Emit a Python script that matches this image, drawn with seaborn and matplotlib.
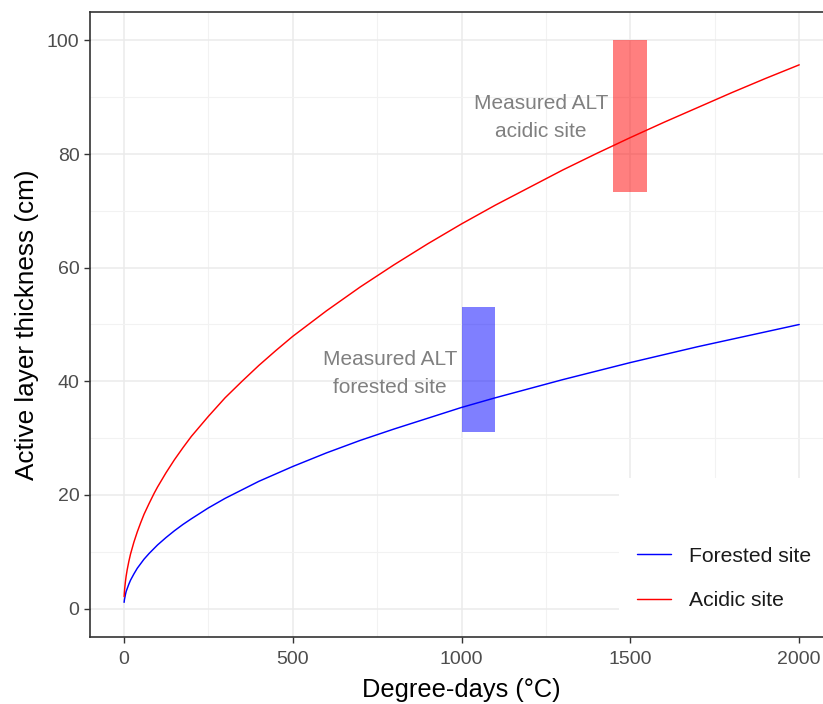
import numpy as np
import pandas as pd
import seaborn as sns
import matplotlib
matplotlib.use("Agg")
import matplotlib.pyplot as plt
from matplotlib.patches import Rectangle
from matplotlib.ticker import MultipleLocator

# Thaw depth versus accumulated degree-days for the two sites
degree_days = [1, 2, 3, 5, 7, 10, 15, 20, 30, 40, 50, 60, 75, 90, 100, 125,
               150, 175, 200, 250, 300, 350, 400, 450, 500, 600, 700, 800,
               900, 1000, 1100, 1200, 1300, 1400, 1500, 1600, 1700, 1800,
               1900, 2000]
forested_alt = [1.1, 1.6, 1.9, 2.5, 3.0, 3.5, 4.3, 5.0, 6.1, 7.1, 7.9, 8.7,
                9.7, 10.6, 11.2, 12.5, 13.7, 14.8, 15.8, 17.7, 19.4, 20.9,
                22.4, 23.7, 25.0, 27.4, 29.6, 31.6, 33.5, 35.4, 37.1, 38.7,
                40.3, 41.8, 43.3, 44.7, 46.1, 47.4, 48.7, 50.0]
acidic_alt = [2.1, 3.0, 3.7, 4.8, 5.7, 6.8, 8.3, 9.6, 11.7, 13.5, 15.1, 16.6,
              18.5, 20.3, 21.4, 23.9, 26.2, 28.3, 30.3, 33.8, 37.1, 40.0,
              42.8, 45.4, 47.9, 52.4, 56.6, 60.5, 64.2, 67.7, 71.0, 74.1,
              77.2, 80.1, 82.9, 85.6, 88.2, 90.8, 93.3, 95.7]
site_names = ["Forested site", "Acidic site"]
site_colors = ["blue", "red"]

# Measured active-layer ranges (degree-day window and depth range)
measured_dd = [(1000, 1100), (1450, 1550)]
measured_alt = [(31.0, 53.0), (73.3, 100.0)]
measured_labels = ["Measured ALT\nforested site", "Measured ALT\nacidic site"]
label_pos = [(788, 41.4), (1236, 86.4)]

df = pd.DataFrame({
    "dd": degree_days * 2,
    "alt": forested_alt + acidic_alt,
    "site": [site_names[0]] * len(degree_days) + [site_names[1]] * len(degree_days),
})

sns.set_theme(style="white")
plt.rcParams["font.family"] = ["Liberation Sans", "DejaVu Sans"]

W, H = 823, 704
fig = plt.figure(figsize=(W / 100, H / 100), dpi=100)
ax = fig.add_axes([90 / W, 1 - 637 / H, (833 - 90) / W, (637 - 12) / H])

ax.set_xlim(-100, 2100)
ax.set_ylim(-5, 105)
ax.xaxis.set_major_locator(MultipleLocator(500))
ax.xaxis.set_minor_locator(MultipleLocator(250))
ax.yaxis.set_major_locator(MultipleLocator(20))
ax.yaxis.set_minor_locator(MultipleLocator(10))
ax.grid(which="major", color="#EBEBEB", linewidth=1.1)
ax.grid(which="minor", color="#F2F2F2", linewidth=0.8)
ax.set_axisbelow(True)

for (x0, x1), (y0, y1), col in zip(measured_dd, measured_alt, site_colors):
    ax.add_patch(Rectangle((x0, y0), x1 - x0, y1 - y0, facecolor=col,
                           alpha=0.5, edgecolor="none", zorder=2))

sns.lineplot(data=df, x="dd", y="alt", hue="site", hue_order=site_names,
             palette=dict(zip(site_names, site_colors)), linewidth=1.05,
             ax=ax, zorder=3)

for txt, (tx, ty) in zip(measured_labels, label_pos):
    ax.text(tx, ty, txt, ha="center", va="center", color="#808080",
            fontsize=15, linespacing=1.62, zorder=4)

ax.set_xlabel("Degree-days (°C)", fontsize=18.3, color="black", labelpad=7)
ax.set_ylabel("Active layer thickness (cm)", fontsize=18.8, color="black", labelpad=6)
ax.tick_params(axis="both", which="major", labelsize=14, labelcolor="#4D4D4D",
               color="#333333", length=4, width=1, direction="out",
               bottom=True, left=True)
ax.tick_params(axis="x", which="major", pad=6)
ax.tick_params(which="minor", length=0)

for side in ["top", "left", "bottom"]:
    ax.spines[side].set_color("#333333")
    ax.spines[side].set_linewidth(1.2)
    ax.spines[side].set_zorder(6)
ax.spines["right"].set_visible(False)

# white legend background inside the panel
ax.add_patch(Rectangle((619 / W, 1 - 637 / H), (W - 619) / W, (637 - 478) / H,
                       transform=fig.transFigure, facecolor="white",
                       edgecolor="none", zorder=1))

leg = ax.legend(title=None, loc="center left",
                bbox_to_anchor=(637 / W, 1 - 578.5 / H),
                bbox_transform=fig.transFigure, frameon=False, fontsize=15.2,
                handlelength=1.6, handletextpad=0.85, labelspacing=1.2,
                borderpad=0, borderaxespad=0)
for t in leg.get_texts():
    t.set_color("#1A1A1A")
leg.set_zorder(5)

fig.savefig("out.png", dpi=100)
